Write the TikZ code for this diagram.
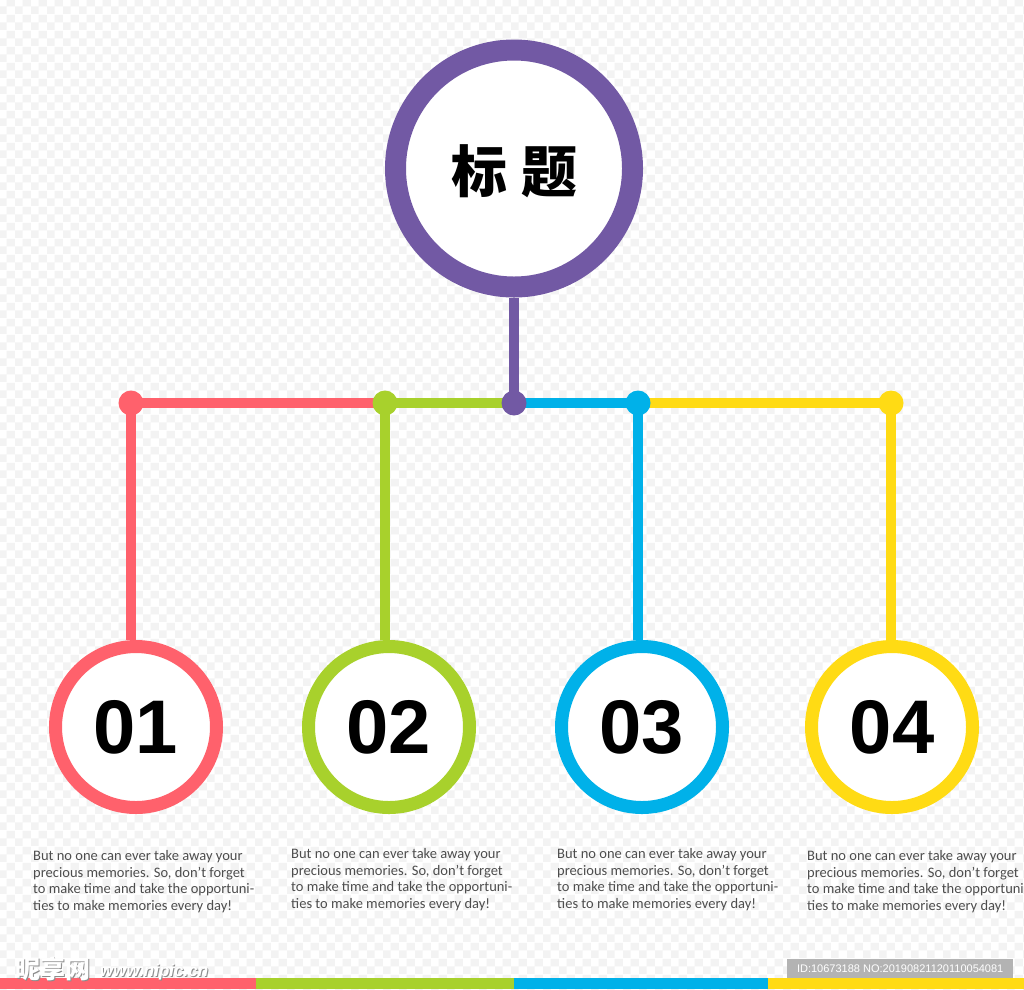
\documentclass[tikz,border=0pt]{standalone}
\usepackage{fontspec}
\setmainfont{Carlito}
\newfontfamily\numfont{Liberation Sans}
\newfontfamily\cjk{Noto Sans CJK SC}
\newfontfamily\idfont{Liberation Sans}
\usetikzlibrary{shadows,patterns.meta}
\definecolor{bgcheck}{HTML}{F3F3F3}
\definecolor{cpurple}{HTML}{7259A4}
\definecolor{cred}{HTML}{FF616C}
\definecolor{cgreen}{HTML}{A8D12C}
\definecolor{cblue}{HTML}{00B1E9}
\definecolor{cyellow}{HTML}{FFDB14}
\definecolor{ctext}{HTML}{4D4D4D}
\definecolor{idgray}{HTML}{B3B3B3}
\pgfdeclarepattern{
  name=bgchecker,
  type=colored,
  bottom left={\pgfpoint{0pt}{0pt}},
  top right={\pgfpoint{16pt}{16pt}},
  tile size={\pgfpoint{16pt}{16pt}},
  code={
    \pgfsetfillcolor{bgcheck}
    \pgfpathrectangle{\pgfpointorigin}{\pgfpoint{8pt}{8pt}}
    \pgfpathrectangle{\pgfpoint{8pt}{8pt}}{\pgfpoint{8pt}{8pt}}
    \pgfusepath{fill}
  }
}
\pgfdeclarelayer{bg}
\pgfdeclarelayer{lines}
\pgfsetlayers{bg,lines,main}
\tikzset{
  ring/.style={circle, fill=white, draw=#1, line width=13pt, minimum size=161pt, inner sep=0pt,
    drop shadow={shadow xshift=3pt, shadow yshift=-3pt, opacity=0.18, fill=black}},
  titlering/.style={circle, fill=white, draw=cpurple, line width=21pt, minimum size=237pt, inner sep=0pt,
    drop shadow={shadow xshift=3pt, shadow yshift=-3pt, opacity=0.18, fill=black}},
  dot/.style={circle, fill=#1, minimum size=25pt, inner sep=0pt},
  link/.style={draw=#1, line width=9.5pt},
  numtext/.style={font=\numfont\bfseries\fontsize{76}{76}\selectfont, text=black},
  para/.style={anchor=north west, align=left, inner sep=0pt, text=ctext,
    font=\fontsize{14.5}{16.8}\selectfont},
  bandseg/.style={fill=#1, draw=none},
}
\begin{document}
\begin{tikzpicture}[x=1pt, y=-1pt]
\useasboundingbox (0,0) rectangle (1024,989);
\begin{pgfonlayer}{bg}
  \fill[white] (0,0) rectangle (1024,989);
  \fill[pattern=bgchecker] (0,0) rectangle (1024,989);
\end{pgfonlayer}

% title
\node[titlering] (title) at (514,168.5) {};
\node[font=\cjk\bfseries\fontsize{56}{56}\selectfont, text=black] (titletext) at (514,171) {标\hspace{14pt}题};

% dots
\node[dot=cred] (d1) at (131,403) {};
\node[dot=cgreen] (d2) at (385,403) {};
\node[dot=cpurple] (hub) at (514,403) {};
\node[dot=cblue] (d3) at (638,403) {};
\node[dot=cyellow] (d4) at (891,403) {};

% number circles
\node[ring=cred] (c1) at (136,727) {};
\node[ring=cgreen] (c2) at (389,727) {};
\node[ring=cblue] (c3) at (642,727) {};
\node[ring=cyellow] (c4) at (892,727) {};
\node[numtext] (n1) at (c1) {01};
\node[numtext] (n2) at (c2) {02};
\node[numtext] (n3) at (c3) {03};
\node[numtext] (n4) at (c4) {04};

% connectors
\begin{pgfonlayer}{lines}
  \path[link=cpurple] (title.south) -- (hub.center);
  \path[link=cred] (d1.center) -- (d2.center);
  \path[link=cgreen] (d2.center) -- (hub.center);
  \path[link=cblue] (hub.center) -- (d3.center);
  \path[link=cyellow] (d3.center) -- (d4.center);
  \path[link=cred] (d1.center) -- (d1.center |- c1.north);
  \path[link=cgreen] (d2.center) -- (d2.center |- c2.north);
  \path[link=cblue] (d3.center) -- (d3.center |- c3.north);
  \path[link=cyellow] (d4.center) -- (d4.center |- c4.north);
\end{pgfonlayer}

% paragraphs
\node[para] (p1) at (33,850) {But no one can ever take away your\\precious memories. So, don't forget\\to make time and take the opportuni-\\ties to make memories every day!};
\node[para] (p2) at (291,848) {But no one can ever take away your\\precious memories. So, don't forget\\to make time and take the opportuni-\\ties to make memories every day!};
\node[para] (p3) at (557,848) {But no one can ever take away your\\precious memories. So, don't forget\\to make time and take the opportuni-\\ties to make memories every day!};
\node[para] (p4) at (807,850) {But no one can ever take away your\\precious memories. So, don't forget\\to make time and take the opportuni-\\ties to make memories every day!};

% bottom band
\path[bandseg=cred] (0,978) rectangle (256,989);
\path[bandseg=cgreen] (256,978) rectangle (514,989);
\path[bandseg=cblue] (514,978) rectangle (768,989);
\path[bandseg=cyellow] (768,978) rectangle (1024,989);

% watermarks
\node[anchor=base west, inner sep=0pt, text=black!45, font=\cjk\bfseries\fontsize{25}{25}\selectfont] at (16,979) {昵享网};
\node[anchor=base west, inner sep=0pt, text=white, font=\cjk\bfseries\fontsize{25}{25}\selectfont] (wm1) at (15,978) {昵享网};
\node[anchor=base west, inner sep=0pt, text=black!45, font=\idfont\bfseries\itshape\fontsize{17}{17}\selectfont] at (101,977) {www.nipic.cn};
\node[anchor=base west, inner sep=0pt, text=white, font=\idfont\bfseries\itshape\fontsize{17}{17}\selectfont] (wm2) at (100,976) {www.nipic.cn};
\node[fill=idgray, anchor=north west, minimum width=226pt, minimum height=19pt, inner sep=0pt,
  text=white, font=\idfont\fontsize{11}{11}\selectfont] (idbox) at (787,959) {ID:10673188 NO:20190821120110054081};
\end{tikzpicture}
\end{document}
